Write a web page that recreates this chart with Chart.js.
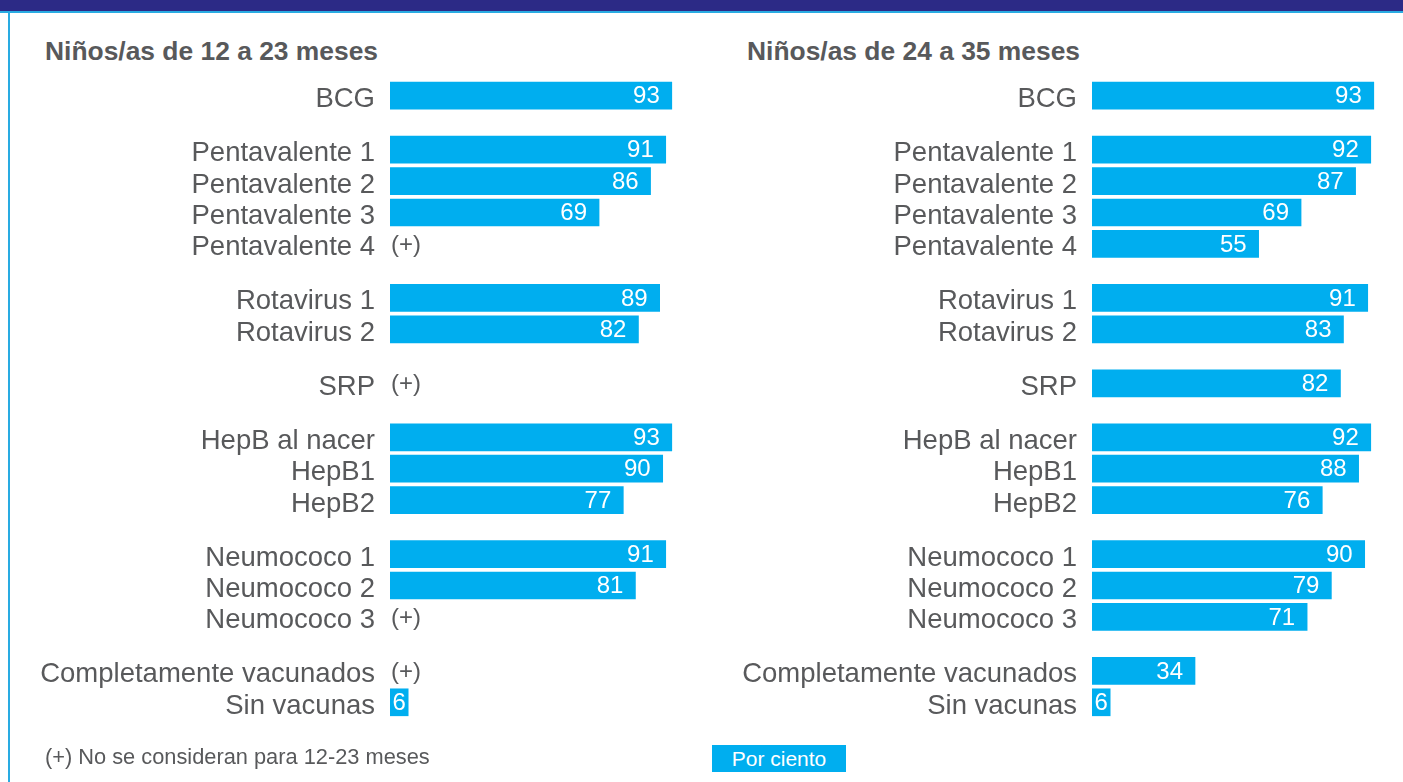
<!DOCTYPE html>
<html>
<head>
<meta charset="utf-8">
<script src="https://cdn.jsdelivr.net/npm/chart.js@4/dist/chart.umd.min.js"></script>
<style>
  html, body { margin: 0; padding: 0; background: #ffffff; }
  body { width: 1403px; height: 782px; position: relative; overflow: hidden; font-family: "Liberation Sans", Arial, sans-serif; }
  #band { position: absolute; left: 0; top: 0; width: 1403px; height: 11px; background: #2c2a86; }
  #bandLine { position: absolute; left: 0; top: 11px; width: 1403px; height: 2px; background: #29abe2; }
  #leftLine { position: absolute; left: 8px; top: 11px; width: 2px; height: 771px; background: #29abe2; }
  .title { position: absolute; top: 38px; font-weight: bold; font-size: 26.4px; line-height: 26px; color: #58595b; white-space: nowrap; }
  #note { position: absolute; left: 45px; top: 746px; font-size: 21.8px; line-height: 21px; color: #58595b; white-space: nowrap; }
  #unit { position: absolute; left: 712px; top: 745px; width: 134px; height: 27px; background: #00aeef; color: #fff; font-size: 21px; line-height: 27px; text-align: center; white-space: nowrap; }
  .wrap { position: absolute; top: 0; height: 782px; }
  canvas { display: block; }
</style>
</head>
<body>
<div id="band"></div>
<div id="bandLine"></div>
<div id="leftLine"></div>
<div class="title" style="left:45px">Niños/as de 12 a 23 meses</div>
<div class="title" style="left:747px">Niños/as de 24 a 35 meses</div>
<div class="wrap" style="left:10px;width:690px"><canvas id="c1"></canvas></div>
<div class="wrap" style="left:702px;width:700px"><canvas id="c2"></canvas></div>
<div id="note">(+) No se consideran para 12-23 meses</div>
<div id="unit">Por ciento</div>
<script>
// ---- data ----
const categories = ["BCG", "Pentavalente 1", "Pentavalente 2", "Pentavalente 3", "Pentavalente 4",
  "Rotavirus 1", "Rotavirus 2", "SRP", "HepB al nacer", "HepB1", "HepB2",
  "Neumococo 1", "Neumococo 2", "Neumococo 3", "Completamente vacunados", "Sin vacunas"];
// vaccine group each category belongs to (for spacing between groups)
const groupOf = [0, 1, 1, 1, 1, 2, 2, 3, 4, 4, 4, 5, 5, 5, 6, 6];
const values12to23 = [93, 91, 86, 69, null, 89, 82, null, 93, 90, 77, 91, 81, null, null, 6];
const values24to35 = [93, 92, 87, 69, 55, 91, 83, 82, 92, 88, 76, 90, 79, 71, 34, 6];
const notConsideredLabel = "(+)";

// ---- layout constants ----
const GROUP_GAP = 0.72;
const rowPos = categories.map((c, i) => i + groupOf[i] * GROUP_GAP);
const BAR_COLOR = "#00aeef";
const TEXT_COLOR = "#58595b";
const FONT = "'Liberation Sans', Arial, sans-serif";

const valueLabels = {
  id: 'valueLabels',
  afterDatasetsDraw(chart) {
    const ctx = chart.ctx;
    const xs = chart.scales.x, ys = chart.scales.y;
    const meta = chart.getDatasetMeta(0);
    const vals = chart.data.datasets[0].data;
    ctx.save();
    ctx.textBaseline = 'middle';
    vals.forEach((d, i) => {
      const y = ys.getPixelForValue(d.y);
      if (d.x === null) {
        ctx.font = "24px " + FONT;
        ctx.fillStyle = TEXT_COLOR;
        ctx.textAlign = 'left';
        ctx.fillText(notConsideredLabel, xs.getPixelForValue(0) + 1, y + 1);
        return;
      }
      const el = meta.data[i];
      const txt = String(d.x);
      ctx.font = "24px " + FONT;
      ctx.fillStyle = "#ffffff";
      const w = ctx.measureText(txt).width;
      const left = Math.min(el.base, el.x), right = Math.max(el.base, el.x);
      if (right - left > w + 24) {
        ctx.textAlign = 'right';
        ctx.fillText(txt, right - 12, y + 1);
      } else {
        ctx.textAlign = 'center';
        ctx.fillText(txt, (left + right) / 2, y + 1);
      }
    });
    ctx.restore();
  }
};

function makeChart(id, values, axisWidth) {
  const data = values.map((v, i) => ({ x: v, y: rowPos[i] }));
  return new Chart(document.getElementById(id), {
    type: 'bar',
    data: {
      datasets: [{
        data: data,
        backgroundColor: BAR_COLOR,
        borderWidth: 0,
        barThickness: 27
      }]
    },
    options: {
      indexAxis: 'y',
      responsive: true,
      maintainAspectRatio: false,
      animation: false,
      events: [],
      layout: { padding: { top: 80, bottom: 64, right: 7, left: 0 } },
      plugins: { legend: { display: false }, tooltip: { enabled: false } },
      scales: {
        x: { type: 'linear', min: 0, max: 100, display: false },
        y: {
          type: 'linear',
          reverse: true,
          offset: false,
          min: -0.5,
          max: rowPos[rowPos.length - 1] + 0.5,
          grid: { display: false, drawTicks: false, offset: false },
          border: { display: false },
          afterBuildTicks(scale) { scale.ticks = rowPos.map(v => ({ value: v })); },
          afterFit(scale) { scale.width = axisWidth; },
          ticks: {
            autoSkip: false,
            padding: 15,
            labelOffset: 4,
            color: TEXT_COLOR,
            font: { family: FONT, size: 27.5 },
            callback: (value, index) => categories[index]
          }
        }
      }
    },
    plugins: [valueLabels]
  });
}

makeChart('c1', values12to23, 380);
makeChart('c2', values24to35, 390);
</script>
</body>
</html>
